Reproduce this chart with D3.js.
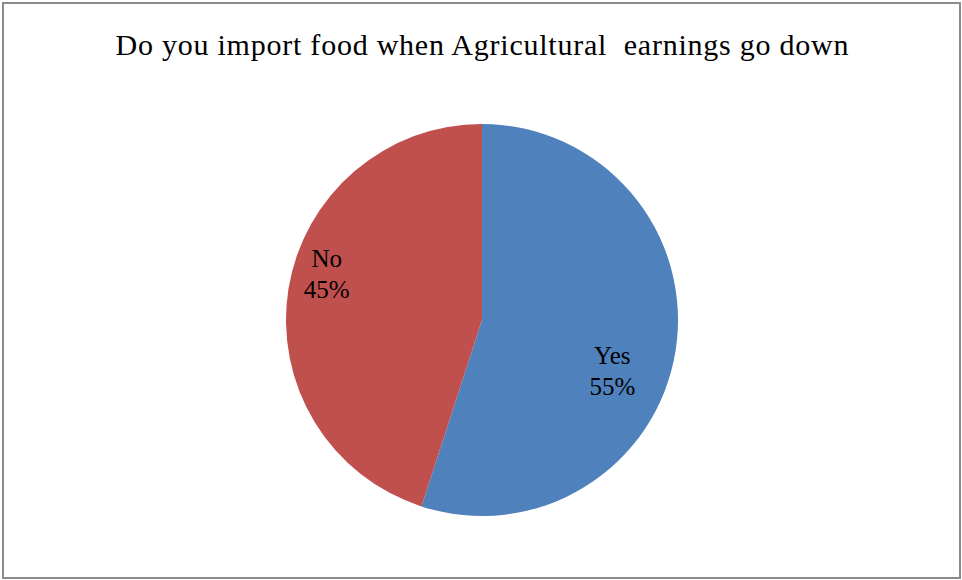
<!DOCTYPE html>
<html>
<head>
<meta charset="utf-8">
<script src="https://cdn.jsdelivr.net/npm/d3@7"></script>
<style>
  body { margin: 0; background: #fff; }
  svg { display: block; }
</style>
</head>
<body>
<svg id="pie"></svg>
<script>
"use strict";

// data
const categories = ["Yes", "No"];
const values = [55, 45];
const colors = ["#4F81BD", "#C0504D"];
const title = "Do you import food when Agricultural  earnings go down";

const width = 962;
const height = 580;
const cx = 482, cy = 320, radius = 196;

// label placement like excel's "best fit" (radius fraction, angle shift in degrees)
const labelRadius = [0.73, 0.815];
const labelShift = [15.4, 4.6];

const svg = d3.select("#pie")
  .attr("width", width)
  .attr("height", height)
  .attr("viewBox", [0, 0, width, height]);

// frame
svg.append("rect")
  .attr("x", 3).attr("y", 3)
  .attr("width", width - 5).attr("height", height - 5)
  .attr("fill", "#fff")
  .attr("stroke", "#8c8c8c")
  .attr("stroke-width", 2);

// title
svg.append("text")
  .attr("x", cx)
  .attr("y", 55)
  .attr("text-anchor", "middle")
  .attr("font-family", "'Liberation Serif', 'Times New Roman', serif")
  .attr("font-size", 30)
  .attr("textLength", 733)
  .attr("lengthAdjust", "spacing")
  .attr("fill", "#000")
  .style("white-space", "pre")
  .text(title);

const pieData = categories.map((c, i) => ({ name: c, value: values[i], color: colors[i], i }));

const pie = d3.pie()
  .value((d) => d.value)
  .sort(null);

const arc = d3.arc().innerRadius(0).outerRadius(radius);

const g = svg.append("g").attr("transform", `translate(${cx},${cy})`);

const arcs = pie(pieData);

g.selectAll("path.slice")
  .data(arcs)
  .join("path")
  .attr("class", "slice")
  .attr("d", arc)
  .attr("fill", (d) => d.data.color);

// labels
const labels = g.selectAll("text.lbl")
  .data(arcs)
  .join("text")
  .attr("class", "lbl")
  .attr("text-anchor", "middle")
  .attr("font-family", "'Liberation Serif', 'Times New Roman', serif")
  .attr("font-size", 25)
  .attr("fill", "#000")
  .attr("transform", (d) => {
    const a = (d.startAngle + d.endAngle) / 2 + labelShift[d.data.i] * Math.PI / 180;
    const r = radius * labelRadius[d.data.i];
    return `translate(${r * Math.sin(a)},${-r * Math.cos(a)})`;
  });

labels.append("tspan").attr("x", 0).attr("dy", "-0.62em").text((d) => d.data.name);
labels.append("tspan").attr("x", 0).attr("dy", "1.24em").text((d) => d.data.value + "%");
</script>
</body>
</html>
